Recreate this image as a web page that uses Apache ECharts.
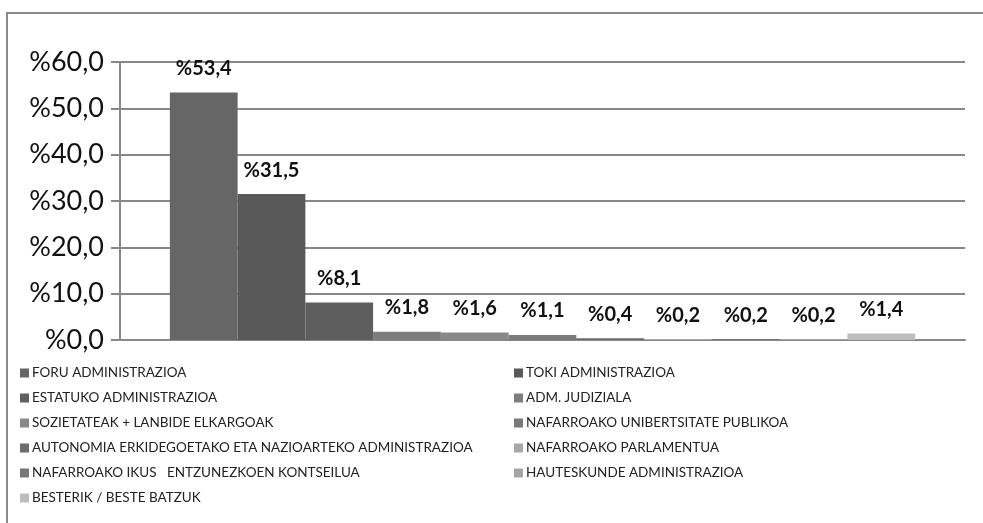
<!DOCTYPE html>
<html>
<head>
<meta charset="utf-8">
<script src="https://cdn.jsdelivr.net/npm/echarts@6/dist/echarts.min.js"></script>
<style>
  html, body { margin: 0; padding: 0; background: #fff; }
  #chart { width: 983px; height: 523px; }
</style>
</head>
<body>
<div id="chart"></div>
<script>
// series names as in the legend (bar order, left to right)
const seriesNames = [
  'FORU ADMINISTRAZIOA',
  'TOKI ADMINISTRAZIOA',
  'ESTATUKO ADMINISTRAZIOA',
  'ADM. JUDIZIALA',
  'SOZIETATEAK + LANBIDE ELKARGOAK',
  'NAFARROAKO UNIBERTSITATE PUBLIKOA',
  'AUTONOMIA ERKIDEGOETAKO ETA NAZIOARTEKO ADMINISTRAZIOA',
  'NAFARROAKO PARLAMENTUA',
  'NAFARROAKO IKUS   ENTZUNEZKOEN KONTSEILUA',
  'HAUTESKUNDE ADMINISTRAZIOA',
  'BESTERIK / BESTE BATZUK'
];
const seriesValues = [53.4, 31.5, 8.1, 1.8, 1.6, 1.1, 0.4, 0.2, 0.2, 0.2, 1.4];
const seriesColors = ['#666666', '#595959', '#5e5e5e', '#7d7d7d', '#898989', '#7a7a7a',
  '#6c6c6c', '#a8a8a8', '#777777', '#a5a5a5', '#bdbdbd'];
const categories = [''];

const fmt = (v) => '%' + v.toFixed(1).replace('.', ',');

const chart = echarts.init(document.getElementById('chart'));

const legendCommon = {
  orient: 'vertical',
  top: 361,
  icon: 'rect',
  itemWidth: 9,
  itemHeight: 9,
  itemGap: 11,
  selectedMode: false,
  textStyle: {
    fontFamily: 'Lato',
    fontSize: 13.5,
    lineHeight: 14,
    color: '#222',
    padding: [0, 0, 0, -2],
  },
};

const option = {
  backgroundColor: '#fff',
  animation: false,
  grid: {
    left: 120,
    right: 18,
    top: 62,
    bottom: 183,
  },
  legend: [
    Object.assign({}, legendCommon, {
      left: 15,
      data: seriesNames.filter((n, i) => i % 2 === 0),
    }),
    Object.assign({}, legendCommon, {
      left: 509,
      data: seriesNames.filter((n, i) => i % 2 === 1),
    }),
  ],
  xAxis: {
    type: 'category',
    data: categories,
    axisLine: { lineStyle: { color: '#888', width: 2 } },
    axisTick: { show: false },
    axisLabel: { show: false },
  },
  yAxis: {
    type: 'value',
    min: 0,
    max: 60,
    interval: 10,
    axisLine: { show: true, lineStyle: { color: '#888', width: 2 } },
    axisTick: { show: true, length: 9, lineStyle: { color: '#888', width: 2 } },
    axisLabel: {
      formatter: fmt,
      fontFamily: 'Lato',
      fontSize: 27,
      color: '#111',
      margin: 16,
    },
    splitLine: { lineStyle: { color: '#888', width: 2 } },
  },
  graphic: [
    {
      type: 'polyline',
      shape: { points: [[7, 523], [7, 13], [983, 13]] },
      style: { stroke: '#8a8a8a', lineWidth: 2, fill: null },
      silent: true,
    },
  ],
  series: seriesNames.map((name, i) => ({
    name: name,
    type: 'bar',
    data: [seriesValues[i]],
    barGap: '0%',
    barCategoryGap: '11.8%',
    itemStyle: { color: seriesColors[i] },
    label: {
      show: true,
      position: 'top',
      distance: 14,
      formatter: (p) => fmt(p.value),
      fontFamily: 'Lato',
      fontWeight: 'bold',
      fontSize: 20,
      color: '#111',
    },
  })),
};

chart.setOption(option);
</script>
</body>
</html>
